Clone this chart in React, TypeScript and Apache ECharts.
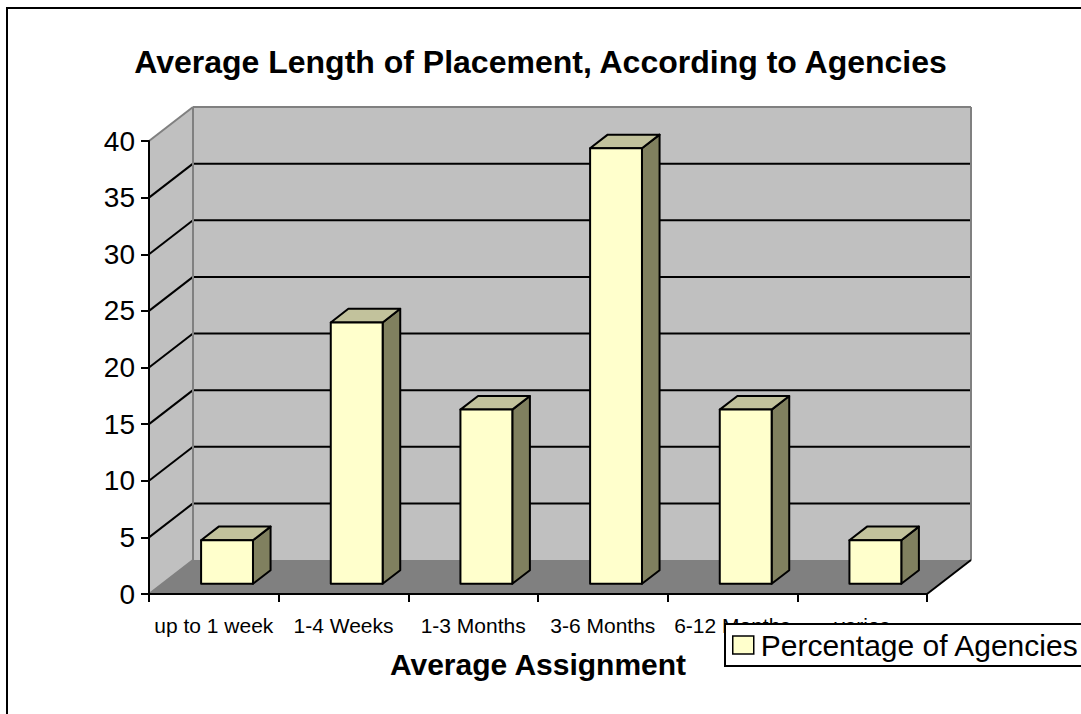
import React, { useEffect, useRef } from 'react';
import * as echarts from 'echarts';

const categories = ['up to 1 week', '1-4 Weeks', '1-3 Months', '3-6 Months', '6-12 Months', 'varies'];
const percentages = [3.85, 23.08, 15.38, 38.46, 15.38, 3.85];
const gridValues = [5, 10, 15, 20, 25, 30, 35];
const yTickMin = 0;
const yTickMax = 40;
const yTickStep = 5;

const FONT = "'Liberation Sans', Arial, sans-serif";
const DX = 44;
const DY = -34;
const BAR_FRONT = 0.3;
const BAR_DEPTH = 0.4;
const BAR_WIDTH = 0.4;

export default function App() {
  const ref = useRef<HTMLDivElement>(null);
  useEffect(() => {
    const chart = echarts.init(ref.current as HTMLDivElement, null, { renderer: 'svg' });

    const renderWalls = (params: any, api: any) => {
      const cs = params.coordSys;
      const x = cs.x, y = cs.y, w = cs.width, h = cs.height;
      const children: any[] = [];
      children.push({
        type: 'polygon',
        shape: { points: [[x, y], [x + DX, y + DY], [x + DX, y + h + DY], [x, y + h]] },
        style: { fill: '#C0C0C0' },
      });
      children.push({
        type: 'rect',
        shape: { x: x + DX, y: y + DY, width: w, height: h },
        style: { fill: '#C0C0C0' },
      });
      children.push({
        type: 'polygon',
        shape: { points: [[x, y + h], [x + DX, y + h + DY], [x + w + DX, y + h + DY], [x + w, y + h]] },
        style: { fill: '#808080' },
      });
      gridValues.forEach((v) => {
        const yv = api.coord([0, v])[1];
        children.push({
          type: 'line',
          shape: { x1: x, y1: yv, x2: x + DX, y2: yv + DY },
          style: { stroke: '#000', lineWidth: 2 },
        });
        children.push({
          type: 'line',
          shape: { x1: x + DX, y1: yv + DY, x2: x + w + DX, y2: yv + DY },
          style: { stroke: '#000', lineWidth: 2 },
        });
      });
      const grey = { stroke: '#808080', lineWidth: 2 };
      children.push({ type: 'line', shape: { x1: x, y1: y, x2: x + DX, y2: y + DY }, style: grey });
      children.push({ type: 'line', shape: { x1: x + DX, y1: y + DY, x2: x + w + DX, y2: y + DY }, style: grey });
      children.push({ type: 'line', shape: { x1: x + DX, y1: y + DY, x2: x + DX, y2: y + h + DY }, style: grey });
      children.push({ type: 'line', shape: { x1: x + w + DX, y1: y + DY, x2: x + w + DX, y2: y + h + DY }, style: grey });
      children.push({ type: 'line', shape: { x1: x, y1: y + h, x2: x + DX, y2: y + h + DY }, style: grey });
      children.push({
        type: 'line',
        shape: { x1: x + w, y1: y + h, x2: x + w + DX, y2: y + h + DY },
        style: { stroke: '#000', lineWidth: 2 },
      });
      return { type: 'group', children };
    };

    const renderBar = (params: any, api: any) => {
      const idx = api.value(0);
      const val = api.value(1);
      const top = api.coord([idx, val]);
      const base = api.coord([idx, 0]);
      const band = api.size([1, 0])[0];
      const bw = band * BAR_WIDTH;
      const fx = DX * BAR_FRONT, fy = DY * BAR_FRONT;
      const ddx = DX * BAR_DEPTH, ddy = DY * BAR_DEPTH;
      const x0 = top[0] - bw / 2 + fx;
      const x1 = x0 + bw;
      const yt = top[1] + fy;
      const yb = base[1] + fy;
      const stroke = { stroke: '#000', lineWidth: 2, lineJoin: 'round' };
      return {
        type: 'group',
        children: [
          {
            type: 'polygon',
            shape: { points: [[x1, yt], [x1 + ddx, yt + ddy], [x1 + ddx, yb + ddy], [x1, yb]] },
            style: { fill: '#80805F', ...stroke },
          },
          {
            type: 'polygon',
            shape: { points: [[x0, yt], [x0 + ddx, yt + ddy], [x1 + ddx, yt + ddy], [x1, yt]] },
            style: { fill: '#C2C29C', ...stroke },
          },
          {
            type: 'rect',
            shape: { x: x0, y: yt, width: bw, height: yb - yt },
            style: { fill: '#FFFFCC', ...stroke },
          },
        ],
      };
    };

    const option: any = {
      animation: false,
      backgroundColor: '#fff',
      title: {
        text: 'Average Length of Placement, According to Agencies',
        left: 'center',
        top: 41,
        textStyle: { fontFamily: FONT, fontSize: 32, fontWeight: 'bold', color: '#000' },
      },
      legend: {
        data: [
          {
            name: 'Percentage of Agencies',
            icon: 'rect',
            itemStyle: { color: '#FFFFCC', borderColor: '#000', borderWidth: 1.5 },
          },
        ],
        left: 725,
        top: 624,
        itemWidth: 21,
        itemHeight: 18,
        itemGap: 6,
        padding: [6, 10, 6, 7],
        backgroundColor: '#fff',
        borderColor: '#000',
        borderWidth: 2,
        borderRadius: 0,
        z: 10,
        textStyle: { fontFamily: FONT, fontSize: 30, color: '#000', padding: [0, 0, 0, 2] },
      },
      grid: { left: 149, top: 141, width: 778, height: 453, containLabel: false },
      xAxis: {
        type: 'category',
        data: categories,
        z: 5,
        axisLine: { show: true, lineStyle: { color: '#000', width: 2 } },
        axisTick: { show: true, length: 8, lineStyle: { color: '#000', width: 2 } },
        axisLabel: { interval: 0, margin: 21, fontFamily: FONT, fontSize: 21, color: '#000' },
        splitLine: { show: false },
        name: 'Average Assignment',
        nameLocation: 'middle',
        nameGap: 55,
        nameTextStyle: { fontFamily: FONT, fontSize: 30, fontWeight: 'bold', color: '#000' },
      },
      yAxis: {
        type: 'value',
        min: yTickMin,
        max: yTickMax,
        interval: yTickStep,
        z: 5,
        axisLine: { show: true, lineStyle: { color: '#000', width: 2 } },
        axisTick: { show: true, length: 8, lineStyle: { color: '#000', width: 2 } },
        axisLabel: { margin: 14, fontFamily: FONT, fontSize: 28, color: '#000' },
        splitLine: { show: false },
      },
      graphic: [
        {
          type: 'rect',
          shape: { x: 7, y: 8, width: 1100, height: 730 },
          style: { fill: 'none', stroke: '#000', lineWidth: 2 },
          z: 20,
          silent: true,
        },
      ],
      series: [
        {
          type: 'custom',
          name: 'walls',
          renderItem: renderWalls,
          data: [[0, 0]],
          clip: false,
          z: 1,
          silent: true,
        },
        {
          type: 'custom',
          name: 'Percentage of Agencies',
          renderItem: renderBar,
          data: percentages.map((v, i) => [i, v]),
          itemStyle: { color: '#FFFFCC', borderColor: '#000' },
          clip: false,
          z: 2,
        },
      ],
    };
    chart.setOption(option);
    return () => chart.dispose();
  }, []);
  return (
    <div
      ref={ref}
      style={{ position: 'absolute', left: 0, top: 0, width: 1081, height: 714, background: '#fff' }}
    />
  );
}
